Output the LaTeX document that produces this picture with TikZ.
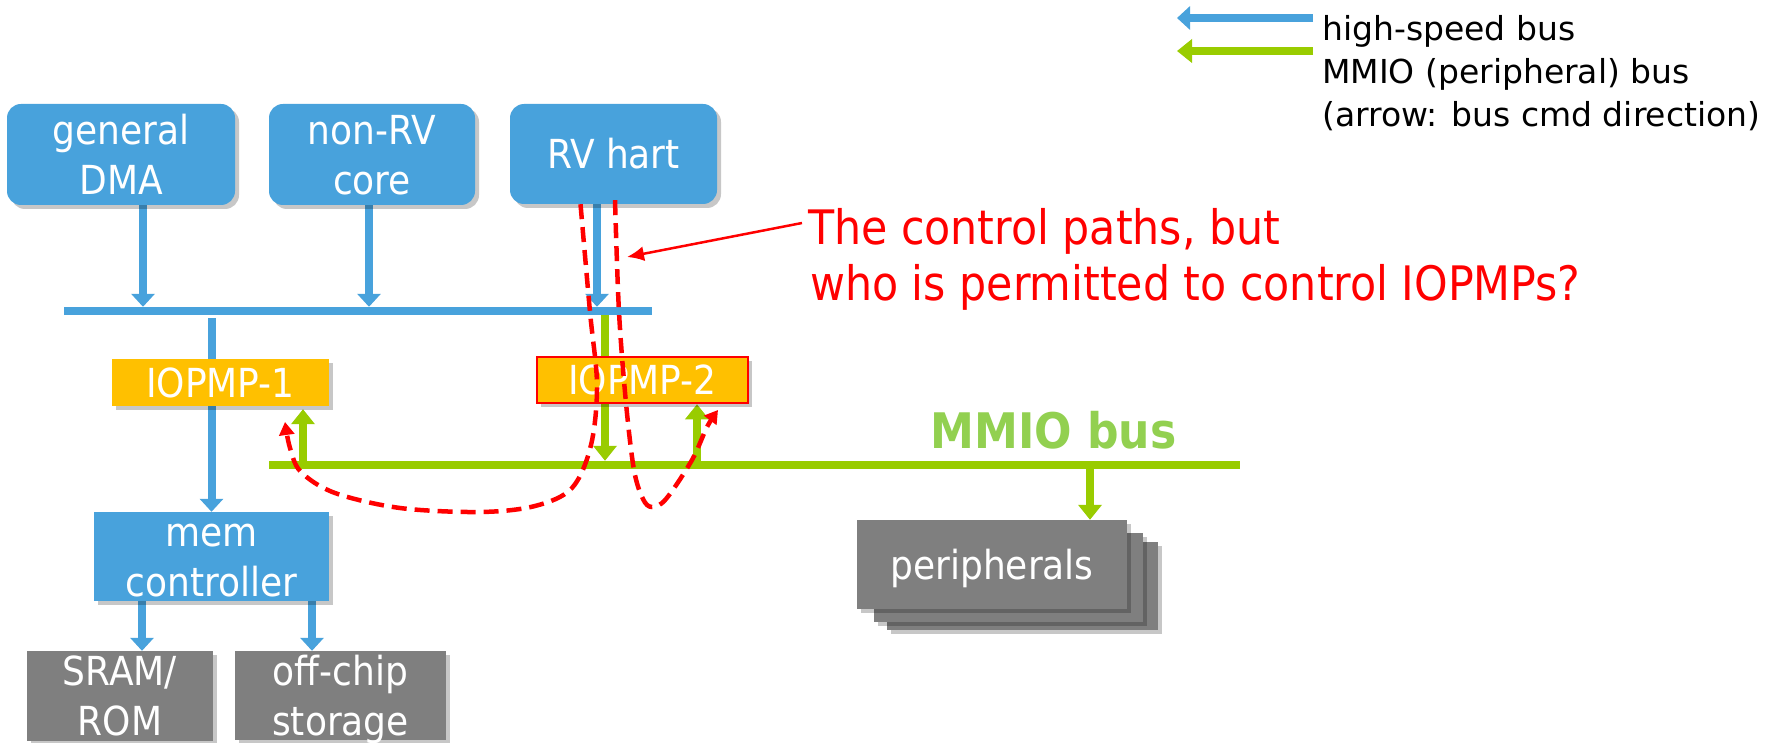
\documentclass[tikz,border=0pt]{standalone}
\usepackage{fontspec}
\setmainfont{DejaVu Sans Condensed}
\newfontfamily\legfont{DejaVu Sans}
\usetikzlibrary{arrows.meta,shadows,calc}
\definecolor{cblue}{RGB}{72,162,220}
\definecolor{cgreen}{RGB}{153,204,0}
\definecolor{cgreentext}{RGB}{146,208,80}
\definecolor{corange}{RGB}{255,192,0}
\definecolor{cgray}{RGB}{127,127,127}
\pgfdeclarelayer{bg}
\pgfdeclarelayer{paper}
\pgfsetlayers{paper,bg,main}
\newcommand\nd[1]{\raisebox{0pt}[\height][0pt]{#1}}
\newcommand\fl{\rule{0pt}{30pt}}
\begin{document}
\begin{tikzpicture}[x=1pt,y=-1pt,
  shad/.style={drop shadow={shadow xshift=4pt,shadow yshift=-4pt,opacity=0.22,fill=black}},
  boxfont/.style={font=\fontsize{40}{50}\selectfont},
  topbox/.style={fill=cblue, rounded corners=14pt, text=white, align=center, inner sep=0pt, shad, boxfont},
  membox/.style={fill=cblue, text=white, align=center, inner sep=0pt, shad, boxfont},
  graybox/.style={fill=cgray, text=white, align=center, inner sep=0pt, shad, boxfont},
  iopbox/.style={fill=corange, text=white, align=center, inner sep=0pt, shad, boxfont},
  busbar/.style={inner sep=0pt, minimum height=8pt},
  barrow/.style={draw=cblue, line width=8pt, -{Triangle[width=23pt,length=13pt]}},
  garrow/.style={draw=cgreen, line width=7.5pt, -{Triangle[width=23pt,length=15pt]}},
  reddash/.style={draw=red, line width=4.5pt, dash pattern=on 15pt off 8pt, -{Triangle[width=15pt,length=13pt]}},
  redarrow/.style={draw=red, line width=2.5pt, -{Latex[length=17pt,width=15pt]}},
  legtext/.style={font=\legfont\fontsize{33}{43}\selectfont, text=black, inner sep=0pt},
  redtext/.style={font=\fontsize{47.5}{55}\selectfont, text=red, inner sep=0pt}
]
\useasboundingbox (0,0) rectangle (1766,743);
\begin{pgfonlayer}{paper}
\fill[white] (0,0) rectangle (1766,743);
\end{pgfonlayer}

% top boxes
\node[topbox, minimum width=228pt, minimum height=101pt] (dma) at (121,154.5) {\fl general\\DMA};
\node[topbox, minimum width=206pt, minimum height=101pt] (nrv) at (372,154.5) {\fl non-RV\\core};
\node[topbox, minimum width=207pt, minimum height=100pt] (rv) at (613.5,154) {RV hart};

% buses
\node[busbar, fill=cblue, minimum width=588pt] (hbus) at (358,311) {};
\node[busbar, fill=cgreen, minimum width=971pt] (mbus) at (754.5,465) {};
\node[anchor=base west, inner sep=0pt, text=cgreentext, font=\fontsize{49}{49}\selectfont\bfseries] (mbl) at (930,448) {MMIO bus};

% IOPMPs
\node[iopbox, minimum width=217pt, minimum height=47pt] (iop1) at (220.5,382.5) {IOPMP-1};
\node[iopbox, draw=red, line width=2.5pt, minimum width=211pt, minimum height=46pt] (iop2) at (642.5,380) {IOPMP-2};

% memory side
\node[membox, minimum width=235pt, minimum height=89pt] (mem) at (211.5,556.5) {\fl mem\\\nd{controller}};
\node[graybox, minimum width=186pt, minimum height=90pt] (sram) at (120,696) {\fl SRAM/\\ROM};
\node[graybox, minimum width=211pt, minimum height=89pt] (offc) at (340.5,695.5) {\fl off-chip\\\nd{storage}};

% peripherals stack
\node[graybox, minimum width=271pt, minimum height=88pt] (p3) at (1022.5,586) {};
\node[graybox, minimum width=269pt, minimum height=89pt] (p2) at (1008.5,577.5) {};
\node[graybox, minimum width=270pt, minimum height=89pt] (p1) at (992,564.5) {\nd{peripherals}};

% connectors behind boxes
\begin{pgfonlayer}{bg}
\draw[barrow] ([xshift=22pt]dma.south) -- ([xshift=22pt]dma.south |- hbus.north);
\draw[barrow] ([xshift=-3pt]nrv.south) -- ([xshift=-3pt]nrv.south |- hbus.north);
\draw[barrow] ([xshift=-16.5pt]rv.south) -- ([xshift=-16.5pt]rv.south |- hbus.north);
\draw[barrow] ([yshift=-3pt]hbus.south -| mem.north) -- (mem.north);
\draw[barrow] ([xshift=-69.5pt]mem.south) -- ([xshift=-69.5pt]mem.south |- sram.north);
\draw[barrow] ([xshift=100.5pt]mem.south) -- ([xshift=100.5pt]mem.south |- offc.north);
\draw[garrow] ([xshift=-8.5pt]rv.south |- hbus.south) -- ([xshift=-8.5pt]rv.south |- mbus.north);
\draw[garrow] ([xshift=82.5pt]iop1.south |- mbus.north) -- ([xshift=82.5pt,yshift=-3pt]iop1.south);
\draw[garrow] ([xshift=54.5pt]iop2.south |- mbus.north) -- ([xshift=54.5pt]iop2.south);
\draw[garrow] ([xshift=98pt]p1.north |- mbus.south) -- ([xshift=98pt]p1.north);
\end{pgfonlayer}

% legend
\coordinate (lbs) at (1313,18);
\coordinate (lbe) at (1177,18);
\coordinate (lgs) at (1313,51);
\coordinate (lge) at (1177,51);
\draw[barrow] (lbs) -- (lbe);
\draw[garrow] (lgs) -- (lge);
\node[legtext, anchor=base west] (lt1) at (1322,41) {high-speed bus};
\node[legtext, anchor=base west] (lt2) at (1322,84) {MMIO (peripheral) bus};
\node[legtext, anchor=base west] (lt3) at (1322,127) {(arrow: bus cmd direction)};

% red annotation
\node[redtext, anchor=base west] (q1) at (808,245) {The control paths, but};
\node[redtext, anchor=base west] (q2) at (810,300) {who is permitted to control IOPMPs?};

\draw[reddash] plot[smooth, tension=0.55] coordinates {([xshift=-33pt]rv.south) (590,312) (597,385) (591,445) (572,488) (535,506) (480,512) (400,508) (335,493) (301,472) (290,448) (285,422)};
\draw[reddash] plot[smooth, tension=0.55] coordinates {([xshift=1.5pt,yshift=4pt]rv.south) (619,312) (626,403) (634,470) (643,499) (652,507) (666,499) (692,460) (707,427) (718,410)};

\coordinate (ctrl) at (627,257);
\coordinate (qs) at (802,223);
\draw[redarrow] (qs) -- (ctrl);
\end{tikzpicture}
\end{document}
